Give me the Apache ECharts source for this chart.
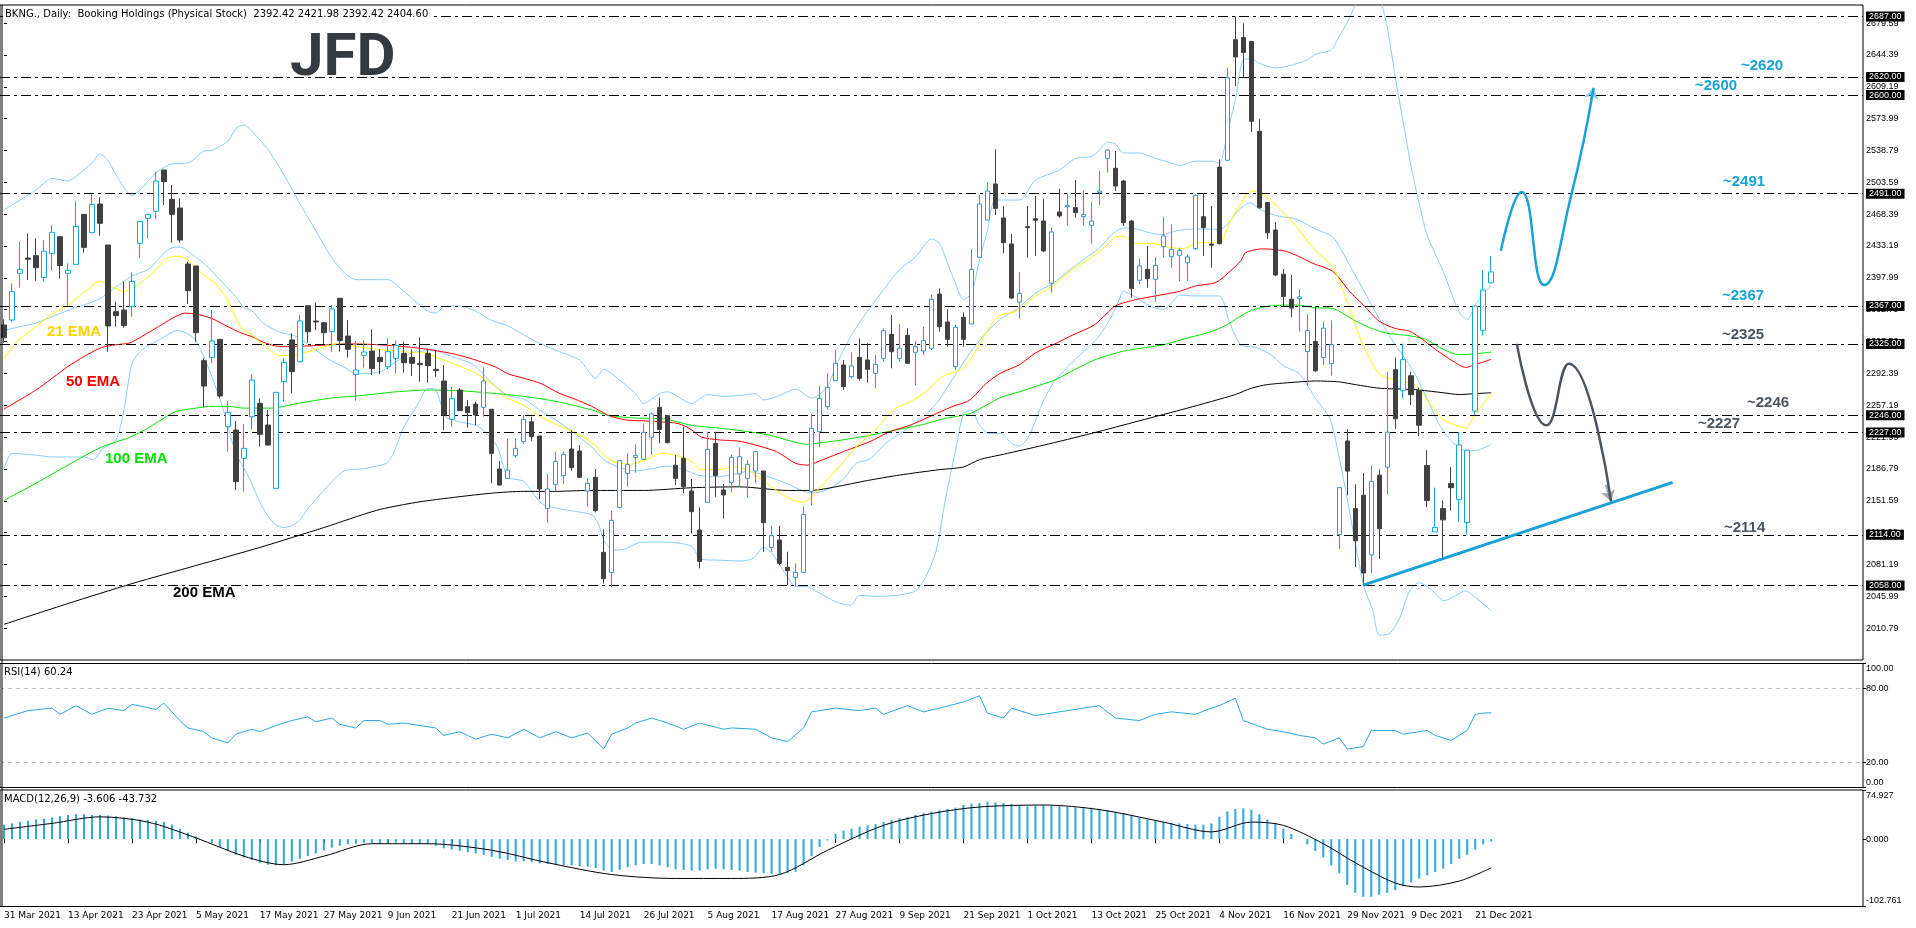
<!DOCTYPE html>
<html>
<head>
<meta charset="utf-8">
<title>BKNG Daily</title>
<script src="https://cdn.jsdelivr.net/npm/echarts@6/dist/echarts.min.js"></script>
<style>
  html, body { margin: 0; padding: 0; background: #fff; }
  #chart { width: 1916px; height: 928px; }
</style>
</head>
<body>
<div id="chart"></div>
<script>
// daily candles [open, close, low, high], 31 Mar 2021 .. 23 Dec 2021
var candles = [
  [2345.9,2331.8,2326.0,2352.0],[2351.4,2382.7,2349.5,2391.9],[2403.0,2407.4,2387.1,2438.0],[2419.9,2418.5,2395.6,2447.2],
  [2422.5,2409.2,2394.9,2441.7],[2398.5,2427.6,2393.8,2439.8],[2425.1,2448.3,2405.9,2456.4],[2443.5,2411.5,2397.1,2444.3],
  [2403.0,2406.3,2367.6,2414.0],[2412.9,2454.9,2412.9,2483.3],[2468.2,2431.7,2425.8,2468.2],[2447.9,2479.2,2447.2,2490.7],
  [2479.6,2458.3,2444.6,2487.0],[2434.3,2344.8,2316.4,2434.3],[2360.6,2356.2,2344.0,2371.7],[2362.4,2345.2,2342.9,2393.8],
  [2366.1,2394.1,2355.1,2404.1],[2436.1,2460.5,2419.6,2460.5],[2463.8,2468.2,2441.7,2469.3],[2471.5,2505.0,2462.7,2515.4],
  [2517.2,2504.3,2478.5,2517.2],[2484.8,2468.2,2436.9,2500.6],[2475.2,2439.8,2436.9,2485.9],[2413.3,2383.8,2369.1,2415.9],
  [2411.1,2337.4,2327.4,2411.1],[2306.4,2278.4,2254.9,2309.0],[2310.1,2328.2,2303.5,2362.4],[2330.0,2267.4,2264.8,2330.0],
  [2233.5,2249.3,2205.9,2261.9],[2229.8,2172.7,2163.5,2239.8],[2198.5,2209.5,2161.6,2236.4],[2244.5,2285.1,2230.6,2291.7],
  [2259.3,2225.0,2211.4,2264.8],[2235.3,2213.2,2212.5,2251.9],[2165.3,2271.4,2165.3,2271.4],[2283.2,2304.6,2261.1,2309.0],
  [2329.3,2294.3,2270.3,2336.7],[2305.3,2350.3,2304.2,2356.9],[2367.2,2338.5,2326.3,2368.0],[2350.3,2349.2,2340.3,2370.9],
  [2348.4,2337.4,2324.9,2349.6],[2338.5,2363.6,2316.4,2368.0],[2375.4,2328.6,2316.4,2375.4],[2333.7,2319.0,2309.8,2351.4],
  [2291.3,2296.1,2262.2,2328.2],[2312.3,2316.0,2298.7,2329.3],[2317.1,2297.6,2290.6,2341.1],[2310.1,2305.3,2291.7,2319.3],
  [2299.8,2316.4,2296.9,2331.1],[2309.0,2323.4,2292.4,2328.6],[2314.6,2304.2,2293.2,2327.5],[2310.1,2303.5,2289.5,2319.0],
  [2303.5,2302.0,2283.2,2332.2],[2314.6,2300.9,2282.1,2320.1],[2296.9,2295.4,2288.8,2318.2],[2284.0,2246.4,2229.8,2301.7],
  [2241.6,2264.8,2233.5,2277.7],[2274.0,2251.2,2250.8,2275.9],[2255.6,2249.0,2232.4,2263.0],[2258.5,2246.4,2235.3,2261.1],
  [2254.9,2284.0,2244.5,2299.1],[2252.7,2204.0,2170.9,2252.7],[2186.7,2169.0,2168.3,2195.5],[2176.4,2185.6,2175.7,2219.9],
  [2201.4,2209.5,2199.2,2220.6],[2216.9,2241.6,2214.3,2246.4],[2239.0,2222.4,2218.0,2244.6],[2223.2,2164.6,2153.2,2223.2],
  [2143.2,2164.6,2127.4,2181.2],[2169.8,2195.2,2161.7,2205.9],[2179.3,2202.9,2170.1,2205.9],[2208.8,2188.2,2184.9,2229.8],
  [2206.6,2177.5,2176.4,2213.2],[2162.4,2170.9,2145.1,2176.4],[2177.5,2140.7,2138.8,2186.7],[2094.6,2065.5,2060.0,2120.0],
  [2072.5,2129.9,2056.0,2140.3],[2144.3,2195.9,2143.2,2196.7],[2181.9,2191.9,2167.2,2204.0],[2199.6,2201.8,2182.7,2213.9],
  [2197.4,2227.2,2196.7,2237.2],[2221.7,2247.5,2202.2,2249.3],[2254.9,2230.5,2215.1,2265.9],[2245.7,2215.8,2215.1,2246.4],
  [2190.8,2176.4,2169.0,2202.2],[2198.5,2167.2,2159.8,2233.5],[2162.4,2139.6,2115.6,2175.7],[2119.3,2084.6,2076.9,2144.3],
  [2149.9,2208.4,2149.9,2228.0],[2215.1,2179.3,2156.1,2228.0],[2163.5,2158.0,2131.8,2170.1],[2171.9,2199.6,2160.9,2202.2],
  [2181.2,2200.3,2167.9,2210.6],[2176.4,2191.9,2155.0,2196.6],[2184.5,2205.9,2170.9,2205.9],[2184.5,2127.4,2095.3,2184.5],
  [2100.1,2113.0,2095.3,2124.1],[2108.2,2082.4,2080.6,2123.7],[2078.0,2074.3,2058.5,2095.3],[2067.0,2072.5,2056.7,2082.4],
  [2072.5,2136.6,2072.5,2145.1],[2161.7,2231.7,2146.9,2247.5],[2228.0,2264.8,2210.7,2278.5],[2255.6,2277.0,2252.7,2292.5],
  [2284.3,2303.5,2284.3,2318.2],[2301.7,2277.7,2274.0,2307.2],[2288.8,2300.6,2286.9,2315.7],[2310.1,2286.9,2284.3,2331.1],
  [2307.2,2296.9,2282.1,2325.6],[2292.4,2302.4,2275.9,2312.7],[2309.0,2339.6,2305.3,2342.2],[2335.6,2316.4,2298.0,2356.9],
  [2309.0,2320.1,2305.3,2347.0],[2334.5,2303.5,2303.5,2342.2],[2315.7,2321.9,2279.6,2328.2],[2317.1,2328.6,2312.7,2344.0],
  [2320.1,2374.3,2318.2,2379.0],[2380.1,2344.0,2338.5,2386.4],[2349.2,2330.0,2321.9,2363.2],[2299.8,2343.3,2296.1,2345.9],
  [2354.4,2330.0,2321.9,2359.9],[2347.0,2407.4,2347.0,2429.9],[2420.7,2479.6,2420.7,2489.6],[2461.9,2494.0,2461.9,2503.6],
  [2501.7,2474.8,2467.5,2540.0],[2464.2,2436.9,2425.1,2477.4],[2435.4,2375.7,2374.3,2446.5],[2371.3,2380.9,2352.9,2404.5],
  [2454.6,2453.5,2420.3,2477.4],[2463.4,2461.6,2422.2,2488.5],[2460.8,2427.7,2426.6,2485.5],[2392.0,2448.7,2381.6,2453.5],
  [2470.8,2466.4,2464.5,2496.6],[2476.7,2477.8,2455.3,2491.4],[2475.6,2470.1,2464.5,2506.2],[2465.6,2468.2,2455.3,2495.1],
  [2456.1,2460.8,2435.8,2481.9],[2492.2,2494.0,2478.5,2516.1],[2530.1,2539.3,2514.3,2540.1],[2519.1,2499.5,2494.0,2538.2],
  [2505.1,2459.0,2455.3,2506.2],[2460.8,2386.1,2376.1,2462.0],[2395.3,2411.1,2390.8,2419.2],[2407.4,2397.1,2387.2,2433.2],
  [2396.4,2411.8,2371.7,2421.1],[2432.5,2444.3,2420.3,2465.6],[2421.4,2429.5,2409.3,2457.2],[2422.9,2428.4,2394.5,2431.4],
  [2414.8,2421.1,2394.5,2424.0],[2430.3,2489.2,2428.8,2490.3],[2465.6,2453.5,2422.2,2491.4],[2435.4,2434.0,2409.3,2477.4],
  [2520.5,2435.8,2435.1,2529.0],[2527.9,2619.2,2527.9,2630.2],[2661.2,2642.2,2610.0,2687.0],[2663.6,2647.2,2619.1,2679.2],
  [2659.2,2571.1,2559.1,2659.2],[2560.0,2475.4,2474.5,2573.3],[2481.2,2447.8,2441.1,2481.2],[2450.9,2401.1,2399.8,2459.8],
  [2402.0,2377.5,2366.8,2407.8],[2374.4,2364.6,2354.4,2401.1],[2375.0,2377.0,2338.8,2385.5],[2316.5,2339.7,2278.7,2357.9],
  [2327.7,2295.2,2294.3,2366.8],[2309.9,2342.4,2301.9,2349.9],[2303.2,2324.1,2289.9,2350.8],[2114.1,2166.1,2098.5,2166.1],
  [2217.7,2184.4,2157.7,2230.7],[2143.0,2107.4,2078.4,2169.7],[2157.7,2071.8,2058.4,2182.1],[2091.8,2172.8,2071.8,2190.6],
  [2179.9,2120.7,2087.3,2186.2],[2188.8,2227.5,2158.5,2294.3],[2296.5,2242.2,2231.1,2309.9],[2273.4,2307.6,2264.5,2325.4],
  [2289.8,2268.9,2257.4,2294.3],[2273.4,2235.1,2223.1,2276.5],[2190.6,2151.9,2144.3,2207.5],[2117.2,2122.1,2117.2,2166.1],
  [2143.0,2130.5,2087.3,2151.9],[2170.6,2166.1,2140.8,2188.8],[2152.8,2213.3,2128.3,2227.5],[2127.4,2207.5,2114.1,2207.5],
  [2250.7,2366.8,2246.2,2366.8],[2340.1,2384.6,2334.3,2406.9],[2392.42,2404.60,2392.42,2421.98]
];

var tickLabels = ['31 Mar 2021','13 Apr 2021','23 Apr 2021','5 May 2021','17 May 2021','27 May 2021','9 Jun 2021',
  '21 Jun 2021','1 Jul 2021','14 Jul 2021','26 Jul 2021','5 Aug 2021','17 Aug 2021','27 Aug 2021','9 Sep 2021',
  '21 Sep 2021','1 Oct 2021','13 Oct 2021','25 Oct 2021','4 Nov 2021','16 Nov 2021','29 Nov 2021','9 Dec 2021','21 Dec 2021'];

// indicator readings as [bar index, value]
var bbUpper = [[0,2473],[4,2495],[6,2508],[8,2505],[9,2510],[11,2525],[12,2535],[13,2528],[14,2512],[16,2489],[17,2495],
  [19,2514],[21,2524],[23,2525],[25,2538],[26,2539],[28,2549],[29,2563],[30,2567],[31,2560],[33,2540],[35,2512],[37,2480],
  [39,2450],[41,2420],[42.4,2405],[44,2396],[48,2396],[50,2383],[53,2361],[54,2359],[55,2366],[57,2367],[59,2361],[61,2351],
  [63,2345],[66,2330],[69,2318],[72,2307],[74,2287],[75,2297],[77,2285],[79,2270],[80,2259],[82,2270],[83,2272],[86,2259],
  [88,2269],[90,2267],[92,2268],[94,2270],[95,2263],[97,2268],[99,2275],[101,2265],[103,2278],[104,2300],[106,2335],
  [108,2361],[110,2385],[112,2407],[114,2421],[116,2441],[117,2436],[118,2414],[119,2392],[120,2374],[121,2381],[122,2418],
  [123,2450],[124,2484],[127,2484],[129,2506],[132,2517],[134,2530],[136,2532],[137,2539],[138,2548],[139,2546],[140,2536],
  [142,2536],[144,2530],[146,2525],[147,2522],[149,2527],[151,2527],[152,2525],[153,2558],[154,2595],[155,2639],[156,2640],
  [157,2635],[159,2630],[161,2633],[163,2639],[164,2645],[166,2650],[167,2665],[168,2680],[169,2700],[170,2720],[171,2725],
  [172,2710],[173,2675],[174,2620],[175,2570],[176,2520],[177,2480],[178,2445],[180,2405],[182,2360],[183,2352],[184,2368],
  [185,2380],[186,2390]];
var bbMiddle = [[0,2340],[2,2344],[4,2348],[6,2355],[8,2362],[10,2368],[12,2375],[14,2388],[16,2400],[18,2407],[19,2416],
  [20.5,2429],[21.5,2432],[22,2432],[24,2421],[25.5,2410],[27,2396],[29,2377],[30,2365],[31,2362],[32.4,2348],[34.5,2338],
  [36.6,2333],[38.7,2320],[40.8,2307],[42.8,2298],[44,2292],[47,2294],[49,2305],[51,2315],[53.7,2318],[56,2311],[58.7,2302],
  [61,2282],[63,2268],[65,2264],[67,2252],[69,2241],[71.4,2226],[73.5,2211],[75,2197],[76.8,2189],[79,2184.5],[81,2187],
  [83,2190],[85,2186],[86.8,2180],[89,2178],[91,2180],[93,2184],[97.8,2171],[100,2162],[101.2,2160],[103.3,2165],[105,2176],
  [106.6,2193],[108.3,2198],[110.3,2215],[112.4,2228],[114.5,2241],[116.6,2259],[118.7,2287],[120.8,2315],[122.8,2337],
  [124.7,2353],[126.6,2363],[129,2381],[131.2,2392],[133.3,2407],[135.3,2420],[137,2431],[138.7,2447],[140,2453],[141.6,2452],
  [143.7,2447],[145,2446],[146.6,2450],[148.7,2452],[151,2452],[152,2451],[153.3,2460],[154.3,2472],[155.8,2481],[157.4,2472],
  [159.5,2466],[161.6,2463],[164,2452],[166.2,2443],[168.3,2412],[170,2385],[171.6,2359],[173.7,2328],[176.2,2296],[177.8,2268],
  [179.5,2236],[181.2,2216],[182.8,2207],[184,2207],[186,2214]];
var bbLower = [[0,2187],[1,2204],[4,2202],[6,2200],[8,2200],[10,2200],[11.2,2197],[12.2,2208],[14,2219],[15,2252],[16,2303],
  [17.2,2318],[19.3,2329],[21.8,2340],[23,2336],[24,2329],[25.5,2300],[27.2,2259],[29,2204],[30.5,2180],[32,2150],[33,2135],
  [34,2125],[35,2122],[36,2124],[37,2130],[38,2143],[42.4,2184],[44.8,2187],[47.8,2193],[48.7,2204],[50,2233],[51.8,2259],
  [53,2276],[54,2274],[55.3,2244],[57,2239],[59.5,2233],[61.7,2211],[63,2178],[65,2173],[67.2,2149],[69.3,2143],[71.4,2140],
  [73.5,2136],[74.3,2127],[75.1,2106],[76.3,2097],[77.6,2098],[79.3,2105],[80.6,2106],[82.6,2106],[84.3,2105],[86,2101],
  [87.2,2087],[89.3,2086],[92.2,2085],[93.7,2088],[95,2100],[96,2094],[97.8,2070],[99,2057],[100.3,2057],[101.7,2051],
  [104,2040],[105.9,2036],[107,2047],[109,2046],[111.6,2047],[114,2052],[115.3,2068],[116.6,2097],[117.8,2156],[119.1,2211],
  [120,2248],[121,2252],[122,2235],[123.2,2226],[124.7,2226],[126,2215],[127,2212],[128,2220],[129,2240],[130,2262],[131.4,2284],
  [134,2308],[136.6,2330],[138.3,2352],[139.5,2374],[140,2383],[141.6,2376],[143.3,2367],[145,2363],[146.2,2372],[147,2379],
  [149,2378],[152,2378],[153.3,2348],[154.7,2324],[156.6,2321],[158.3,2314],[160,2301],[162,2292],[164,2265],[165.8,2243],
  [166.6,2216],[167.8,2163],[169,2105],[170.1,2056],[171.2,2030],[172,2003],[173.3,2005],[174.5,2021],[175.8,2052],[177,2061],
  [178.7,2052],[180.1,2041],[181.6,2047],[182.8,2052],[184,2045],[186,2030]];
var ema21 = [[0,2309],[1.8,2329],[4,2344],[6,2358],[8,2368],[10,2382],[12,2394],[13.5,2388],[15,2383],[16.4,2388],[18,2399],
  [19.3,2410],[20.5,2420],[21.8,2422],[23,2418],[24.7,2403],[26.4,2392],[28,2373],[29.7,2342],[31,2335],[32.4,2324],
  [34.5,2312],[36.6,2313],[38.7,2318],[41.6,2325],[42.8,2324],[44.8,2321],[47.8,2318],[50.3,2316],[52.8,2315],[54.1,2310],
  [56.2,2303],[58.7,2294],[60.3,2285],[61.6,2277],[63,2265],[65,2257],[67.2,2244],[69.3,2235],[71.4,2227],[73.5,2216],
  [75.1,2202],[76.4,2194],[78.5,2192],[80.5,2198],[82.2,2204],[84,2202],[86,2195],[87.2,2186],[89.3,2186],[91.4,2189],
  [93,2186],[96.6,2163],[98.7,2152],[100,2150],[101.6,2162],[103.3,2178],[105,2195],[107,2215],[109,2230],[111.2,2252],
  [113.3,2261],[115.3,2272],[117.4,2289],[120,2298],[121.6,2318],[123.3,2344],[124.7,2357],[126.6,2361],[129,2378],
  [131.2,2389],[133.3,2405],[136.2,2422],[137.8,2433],[139,2443],[140,2444],[141.6,2436],[143.7,2436],[145.8,2432],
  [147.4,2430],[149,2436],[150.8,2437],[152,2437],[153.3,2459],[154.5,2478],[156,2494],[157.4,2491],[159,2479],[160.8,2463],
  [162.4,2446],[164,2428],[166.2,2410],[167.4,2385],[168.5,2359],[170,2323],[172,2292],[174,2285],[176.6,2279],[178.3,2259],
  [180,2241],[181.6,2235],[182.8,2232],[184,2247],[186,2270]];
var ema50 = [[0,2253],[4,2274],[8,2300],[10,2311],[12.2,2321],[14,2324],[15.7,2326],[17.2,2333],[19.3,2344],[21,2353],
  [22.6,2359],[24,2358],[26,2353],[28,2344],[29.7,2337],[31,2333],[32.4,2327],[34.5,2322],[38.7,2323],[42.8,2325],[47,2324],
  [51.2,2321],[53.7,2318],[56.2,2314],[58.7,2308],[61.6,2299],[63,2292],[65,2287],[67.2,2281],[69.3,2271],[71.4,2264],
  [73.5,2256],[75.6,2246],[77.7,2241],[79.8,2240],[81.8,2239],[84.3,2237],[86,2230],[87.2,2222],[89.3,2219],[92.2,2217],
  [96.6,2206],[99,2193],[100.5,2191],[102.4,2197],[105,2206],[108.3,2217],[110.8,2228],[113.3,2235],[116.6,2248],
  [118.7,2256],[120.8,2263],[122.8,2281],[124.7,2293],[127,2302],[129,2315],[131.2,2324],[133.7,2335],[136.2,2345],
  [137.4,2354],[139,2367],[141.6,2374],[144,2378],[147,2383],[149,2389],[151.6,2393],[153.3,2405],[154.7,2417],[155.3,2426],
  [157.4,2430],[160,2428],[161.6,2423],[163.7,2414],[166.2,2405],[168.3,2383],[170,2368],[172,2350],[174,2342],[175.8,2339],
  [177.4,2330],[179,2319],[181.2,2306],[182.8,2299],[184,2302],[186,2308]];
var ema100 = [[0,2152],[4,2171],[8,2191],[12.2,2211],[15.5,2221],[17.6,2230],[19.3,2239],[21.4,2250],[24,2254],[26,2256],
  [28,2256],[30,2254],[33.5,2254],[36.6,2259],[40.8,2265],[44.8,2268],[49,2272],[53.3,2274],[57.4,2273],[61.6,2270],
  [65,2267],[69.3,2261],[73.5,2252],[75.6,2246],[79,2243],[82.6,2242],[86,2235],[89.3,2232],[92.2,2229],[95.8,2224],
  [97.8,2219],[100.3,2214],[102.4,2216],[105,2219],[108.3,2224],[111.6,2230],[115,2236],[117.4,2242],[120.8,2248],
  [122.8,2257],[124.7,2266],[127,2272],[129,2278],[131.4,2285],[134,2297],[136.6,2308],[140,2317],[142.8,2321],[145,2324],
  [147.8,2331],[150,2336],[152,2342],[153.3,2348],[154.7,2356],[156,2362],[158.3,2367],[161.6,2368],[164,2365],[166.2,2364],
  [168.7,2352],[170.8,2343],[172.8,2337],[175.8,2334],[177.8,2330],[180,2319],[182,2313],[184,2314],[186,2316]];
var ema200 = [[0,2015],[8,2038],[16,2060],[24,2080],[32,2100],[40,2122],[46.6,2141],[51,2149],[55,2154],[61,2160],
  [65,2162],[69,2162],[73,2163],[80,2163],[86,2166],[92,2167],[98,2163],[101,2163],[104,2167],[108,2174],[112,2180],
  [117,2186],[120,2189],[122,2197],[125,2203],[130,2213],[136,2226],[142,2240],[148,2254],[154,2269],[156,2276],[158,2280],
  [162,2283],[164,2284],[167,2283],[169,2280],[172,2276],[175,2275],[177,2274],[180,2271],[182,2269],[184,2270],[186,2271]];

var rsi14 = [[0,56],[3,62],[6,64],[7,59],[9,66],[11,59],[13,64],[15,62],[16,67],[19,63],[20,68],[22,54],[23,48],[25,45],
  [26,40],[28,36],[29,43],[31,47],[32,45],[34,50],[36,54],[38,57],[39,53],[41,56],[42,51],[44,48],[45,54],[47,54],[48,51],
  [50,52],[52,50],[54,48],[55,42],[57,45],[59,39],[61,43],[63,40],[65,47],[67,40],[69,45],[71,40],[73,44],[75,31],[76,43],
  [78,48],[79,52],[81,56],[83,52],[85,47],[87,52],[90,47],[91,48],[94,47],[96,40],[98,37],[100,48],[101,61],[104,64],
  [107,62],[109,64],[110,59],[113,66],[115,61],[117,64],[120,69],[122,74],[123,60],[125,56],[126,64],[129,58],[131,60],
  [133,62],[135,64],[137,66],[139,56],[142,54],[144,59],[146,61],[149,59],[151,64],[152,66],[154,72],[155,54],[158,47],
  [160,45],[162,42],[164,40],[165,35],[167,40],[168,31],[170,33],[171,46],[174,46],[175,43],[178,46],[179,42],[181,38],
  [183,46],[184,59],[185,60],[186,60.24]];
// MACD main line, one bar per trading day
var macdHist = [
  22,24,26,28,30,31,33,35,37,38, 38,37,37,36,35,33,32,30,29,28, 26,22,16,10,4,0,-6,-12,-18,-24,
  -28,-32,-36,-39,-40,-38,-34,-30,-26,-22, -17,-13,-10,-8,-7,-6,-6,-7,-6,-5, -6,-7,-7,-8,-10,-14,-16,-18,-20,-22,
  -24,-27,-30,-32,-34,-34,-35,-37,-38,-39, -40,-40,-41,-42,-44,-48,-50,-47,-43,-40, -38,-38,-40,-43,-46,-47,-48,-48,-46,-45,
  -46,-47,-48,-50,-51,-52,-53,-54,-52,-50, -40,-26,-12,-2,8,13,16,19,21,23, 26,29,32,34,37,40,42,44,46,48,
  52,54,55,57,56,55,54,52,50,51, 52,51,50,49,48,47,48,46,44,42, 40,37,33,30,28,26,25,24,23,22,
  22,24,34,42,46,47,45,38,30,24, 16,8,0,-8,-18,-28,-40,-52,-70,-82, -88,-88,-85,-82,-78,-72,-66,-60,-55,-50,
  -45,-38,-30,-24,-16,-8,-3.606
];
var macdSignal = [[0,15],[6,24],[12,34],[18,26],[24,2],[30,-26],[35,-39],[40,-26],[46,-7],[53,-7],[61,-17],[68,-36],
  [76,-54],[84,-60],[91,-60],[97,-54],[103,-17],[110,21],[116,39],[122,49],[130,52],[137,45],[145,26],[151,11],[156,26],
  [160,21],[165,-7],[169,-36],[174,-67],[177,-73],[182,-64],[186,-43.732]];

// horizontal levels and annotation paths (bar index, price)
var levels = [2687, 2620, 2600, 2491, 2367, 2325, 2246, 2227, 2114, 2058];
var bluePath = [[187.2,2428],[189.8,2493],[192.6,2390],[196,2489],[198.8,2608]];
var greyPath = [[189.2,2325],[192.9,2235],[195.7,2303],[201,2151]];
var trendLine = [[170,2058.4],[208.7,2172]];
var levelNotes = [
  ['~2620', 1741, 66, 'blue'], ['~2600', 1695, 86, 'blue'], ['~2491', 1723, 182, 'blue'], ['~2367', 1722, 296, 'blue'],
  ['~2325', 1722, 335, 'grey'], ['~2246', 1747, 403, 'grey'], ['~2227', 1698, 424, 'grey'], ['~2114', 1724, 528, 'grey']
];

var NBARS = 233;
var BLUE = '#17A2D8', GREY = '#4B5560', CANDLE_UP = '#14A6DA', CANDLE_DN = '#404040';
var FONT = 'Liberation Sans', UIFONT = 'DejaVu Sans';

var cats = [];
for (var i = 0; i < NBARS; i++) cats.push(String(i));

function lineSeries(name, data, color, width) {
  return {
    name: name, type: 'line', xAxisIndex: 3, yAxisIndex: 0, data: data,
    showSymbol: false, smooth: 0.25, silent: true, z: 3,
    lineStyle: { color: color, width: width || 1 }
  };
}

// short arrowhead segment along the last leg of a path
function headSegment(path) {
  var a = path[path.length - 2], b = path[path.length - 1];
  return [[b[0] - (b[0] - a[0]) * 0.12, b[1] - (b[1] - a[1]) * 0.12], b];
}

var lvlLines = levels.map(function (v) { return { yAxis: v }; });

var chart = echarts.init(document.getElementById('chart'));
var option = {
  animation: false,
  backgroundColor: '#ffffff',
  textStyle: { fontFamily: FONT },
  grid: [
    { left: -1.67, width: 1864.67, top: 5, height: 655, show: true, borderColor: '#000', borderWidth: 1 },
    { left: -1.67, width: 1864.67, top: 663.5, height: 124, show: true, borderColor: '#000', borderWidth: 1 },
    { left: -1.67, width: 1864.67, top: 790, height: 116.5, show: true, borderColor: '#000', borderWidth: 1 }
  ],
  xAxis: [
    { type: 'category', gridIndex: 0, data: cats, boundaryGap: true, axisLine: { show: false }, axisTick: { show: false }, axisLabel: { show: false } },
    { type: 'category', gridIndex: 1, data: cats, boundaryGap: true, axisLine: { show: false }, axisTick: { show: false }, axisLabel: { show: false } },
    { type: 'category', gridIndex: 2, data: cats, boundaryGap: true,
      axisLine: { show: false },
      axisTick: { show: true, alignWithLabel: true, length: 4, lineStyle: { color: '#000' },
        interval: function (idx) { return idx % 8 === 0 && idx <= 184; } },
      axisLabel: { show: true, align: 'left', margin: 5, fontSize: 9, color: '#000', fontFamily: UIFONT,
        interval: function (idx) { return idx % 8 === 0 && idx <= 184; },
        formatter: function (v, idx) { return tickLabels[idx / 8] || ''; } } },
    { type: 'value', gridIndex: 0, min: -0.5, max: NBARS - 0.5, show: false }
  ],
  yAxis: [
    { type: 'value', gridIndex: 0, position: 'right', min: 1975.59, max: 2699.59, interval: 35.2, scale: true,
      axisLine: { show: false }, splitLine: { show: false },
      axisTick: { show: true, length: 3, lineStyle: { color: '#000' } },
      axisLabel: { color: '#000', fontSize: 9, margin: 3, fontFamily: FONT, showMinLabel: false, showMaxLabel: false,
        formatter: function (v) { return v.toFixed(2); } } },
    { type: 'value', gridIndex: 1, position: 'right', min: 0, max: 100,
      axisLine: { show: false }, splitLine: { show: false },
      axisTick: { show: true, length: 3, lineStyle: { color: '#000' }, customValues: [0, 20, 80, 100] },
      axisLabel: { color: '#000', fontSize: 9, margin: 3, fontFamily: FONT, customValues: [0, 20, 80, 100],
        formatter: function (v) {
          if (v === 100) return '{t|100.00}';
          if (v === 0) return '{b|0.00}';
          return v.toFixed(2);
        },
        rich: { t: { padding: [10, 0, 0, 0], fontSize: 9 }, b: { padding: [0, 0, 10, 0], fontSize: 9 } } } },
    { type: 'value', gridIndex: 2, position: 'right', min: -102.761, max: 74.927,
      axisLine: { show: false }, splitLine: { show: false },
      axisTick: { show: true, length: 3, lineStyle: { color: '#000' }, customValues: [-102.761, 0, 74.927] },
      axisLabel: { color: '#000', fontSize: 9, margin: 3, fontFamily: FONT, customValues: [-102.761, 0, 74.927],
        formatter: function (v) {
          if (v > 70) return '{t|' + v.toFixed(3) + '}';
          if (v < -100) return '{b|' + v.toFixed(3) + '}';
          return v.toFixed(3);
        },
        rich: { t: { padding: [11, 0, 0, 0], fontSize: 9 }, b: { padding: [0, 0, 11, 0], fontSize: 9 } } } }
  ],
  series: [
    lineSeries('BB upper', bbUpper, '#87CEFA'),
    lineSeries('BB middle', bbMiddle, '#87CEFA'),
    lineSeries('BB lower', bbLower, '#87CEFA'),
    lineSeries('200 EMA', ema200, '#000000'),
    lineSeries('100 EMA', ema100, '#00E600'),
    lineSeries('50 EMA', ema50, '#FF0000'),
    lineSeries('21 EMA', ema21, '#FFFF00'),
    {
      name: 'BKNG', type: 'candlestick', xAxisIndex: 0, yAxisIndex: 0, data: candles,
      barWidth: 5, z: 5,
      itemStyle: { color: '#ffffff', color0: CANDLE_DN, borderColor: CANDLE_UP, borderColor0: CANDLE_DN, borderWidth: 1 },
      markLine: {
        silent: true, symbol: ['none', 'none'], animation: false,
        lineStyle: { color: '#000', width: 1, type: [10, 4, 3, 4] },
        label: { show: true, position: 'end', distance: 3, color: '#fff', backgroundColor: '#000',
          fontSize: 9, fontFamily: FONT, padding: [1, 3, 0, 3],
          formatter: function (p) { return Number(p.value).toFixed(2); } },
        data: lvlLines
      }
    },
    {
      name: 'up path', type: 'line', xAxisIndex: 3, yAxisIndex: 0, data: bluePath, smooth: 0.5,
      showSymbol: false, silent: true, z: 6, lineStyle: { color: BLUE, width: 2.5 }
    },
    {
      name: 'down path', type: 'line', xAxisIndex: 3, yAxisIndex: 0, data: greyPath, smooth: 0.5,
      showSymbol: false, silent: true, z: 6, lineStyle: { color: GREY, width: 2.5 }
    },
    {
      name: 'arrow heads', type: 'lines', coordinateSystem: 'cartesian2d', xAxisIndex: 3, yAxisIndex: 0, z: 7,
      symbol: ['none', 'arrow'], symbolSize: 11, silent: true,
      data: [
        { coords: headSegment(bluePath), lineStyle: { color: BLUE, width: 2.5 } },
        { coords: headSegment(greyPath), lineStyle: { color: GREY, width: 2.5 } }
      ]
    },
    {
      name: 'support', type: 'line', xAxisIndex: 3, yAxisIndex: 0, data: trendLine,
      showSymbol: false, silent: true, z: 6, lineStyle: { color: BLUE, width: 3 }
    },
    {
      name: 'RSI(14)', type: 'line', xAxisIndex: 1, yAxisIndex: 1, data: rsi14, showSymbol: false, silent: true,
      lineStyle: { color: '#2AA9E0', width: 1 },
      markLine: { silent: true, symbol: ['none', 'none'], label: { show: false },
        lineStyle: { color: '#C0C0C0', type: [4, 4], width: 1 }, data: [{ yAxis: 80 }, { yAxis: 20 }] }
    },
    {
      name: 'MACD', type: 'bar', xAxisIndex: 2, yAxisIndex: 2, data: macdHist, barWidth: 2, silent: true,
      itemStyle: { color: '#2AA9E0' }
    },
    {
      name: 'Signal', type: 'line', xAxisIndex: 2, yAxisIndex: 2, data: macdSignal, showSymbol: false, smooth: 0.3,
      silent: true, lineStyle: { color: '#000', width: 1 }
    }
  ],
  graphic: [
    { type: 'line', z: 50, shape: { x1: 2, y1: 5, x2: 2, y2: 906.5 }, style: { stroke: '#000', lineWidth: 1 } },
    { type: 'text', z: 60, left: 3, top: 8, style: { text: 'BKNG., Daily:  Booking Holdings (Physical Stock)  2392.42 2421.98 2392.42 2404.60',
        font: '10px ' + UIFONT, fill: '#000', backgroundColor: '#fff', padding: [1, 2, 1, 2] } },
    { type: 'text', z: 60, left: 290, top: 30, style: { text: 'JFD', font: 'bold 60px Roboto', fill: '#353A41' } },
    { type: 'text', z: 60, left: 47, top: 324, style: { text: '21 EMA', font: 'bold 15px ' + FONT, fill: '#FFD200' } },
    { type: 'text', z: 60, left: 66, top: 374, style: { text: '50 EMA', font: 'bold 15px ' + FONT, fill: '#FF0000' } },
    { type: 'text', z: 60, left: 105, top: 451, style: { text: '100 EMA', font: 'bold 15px ' + FONT, fill: '#00E000' } },
    { type: 'text', z: 60, left: 173, top: 585, style: { text: '200 EMA', font: 'bold 15px ' + FONT, fill: '#000' } },
    { type: 'text', z: 60, left: 4, top: 667, style: { text: 'RSI(14) 60.24', font: '10px ' + UIFONT, fill: '#000' } },
    { type: 'text', z: 60, left: 4, top: 794, style: { text: 'MACD(12,26,9) -3.606 -43.732', font: '10px ' + UIFONT, fill: '#000' } }
  ].concat(levelNotes.map(function (n) {
    return { type: 'text', z: 60, left: n[1], top: n[2] - 8,
      style: { text: n[0], font: 'bold 15px ' + FONT, fill: n[3] === 'blue' ? BLUE : GREY } };
  }))
};
chart.setOption(option);
</script>
</body>
</html>
